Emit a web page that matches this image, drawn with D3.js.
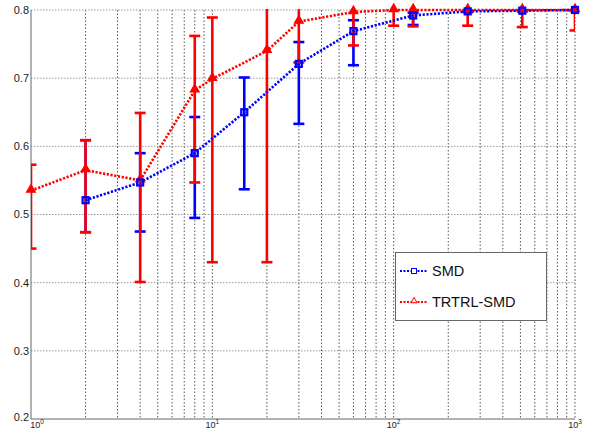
<!DOCTYPE html>
<html>
<head>
<meta charset="utf-8">
<script src="https://cdn.jsdelivr.net/npm/d3@7"></script>
<style>
  body { margin: 0; background: #fff; }
  svg { font-family: "Liberation Sans", Arial, sans-serif; }
</style>
</head>
<body>
<div id="chart"></div>
<script>
// SMD series
const smdX = [2, 4, 8, 15, 30, 60, 128, 256, 512, 1000];
const smdY = [0.521, 0.547, 0.590, 0.650, 0.721, 0.769, 0.792, 0.798, 0.799, 0.800];
const smdLo = [0.474, 0.475, 0.495, 0.537, 0.633, 0.719, 0.778, 0.797, 0.798, 0.799];
const smdHi = [0.609, 0.590, 0.643, 0.701, 0.753, 0.785, 0.796, 0.799, 0.800, 0.801];

// TRTRL-SMD series
const trtrlX = [1, 2, 4, 8, 10, 20, 30, 60, 100, 128, 256, 512, 1000];
const trtrlY = [0.535, 0.565, 0.550, 0.682, 0.699, 0.740, 0.783, 0.797, 0.800, 0.800, 0.800, 0.800, 0.800];
const trtrlLo = [0.450, 0.474, 0.401, 0.547, 0.430, 0.430, 0.723, 0.748, 0.777, 0.776, 0.777, 0.775, 0.770];
const trtrlHi = [0.573, 0.609, 0.649, 0.762, 0.789, 0.850, 0.843, 0.847, 0.823, 0.824, 0.823, 0.825, 0.830];

const yTicks = [0.2, 0.3, 0.4, 0.5, 0.6, 0.7, 0.8];
const xDecades = [1, 10, 100, 1000];
const legendLabels = ["SMD", "TRTRL-SMD"];

const width = 601, height = 439;
const plot = { left: 31, right: 575, top: 10, bottom: 419 };

const svg = d3.select("#chart").append("svg")
    .attr("width", width)
    .attr("height", height);

const x = d3.scaleLog().domain([1, 1000]).range([plot.left, plot.right]);
const y = d3.scaleLinear().domain([0.2, 0.8]).range([plot.bottom, plot.top]);

svg.append("defs").append("clipPath")
    .attr("id", "clip")
    .append("rect")
    .attr("x", plot.left)
    .attr("y", plot.top - 1)
    .attr("width", plot.right - plot.left)
    .attr("height", plot.bottom - plot.top + 1);

// grid
const minorX = [];
xDecades.slice(0, 3).forEach(d => {
    for (let k = 2; k <= 10; k++) minorX.push(d * k);
});

svg.append("g")
    .selectAll("line")
    .data(minorX)
    .enter().append("line")
    .attr("x1", d => x(d)).attr("x2", d => x(d))
    .attr("y1", plot.top).attr("y2", plot.bottom)
    .attr("stroke", "#555")
    .attr("stroke-width", 1)
    .attr("stroke-dasharray", "1.5,2");

svg.append("g")
    .selectAll("line")
    .data(yTicks.slice(1))
    .enter().append("line")
    .attr("x1", plot.left).attr("x2", plot.right)
    .attr("y1", d => y(d)).attr("y2", d => y(d))
    .attr("stroke", "#999")
    .attr("stroke-width", 1)
    .attr("stroke-dasharray", "1.5,1.5");

// axes
svg.append("line")
    .attr("x1", plot.left).attr("x2", plot.left)
    .attr("y1", plot.top).attr("y2", plot.bottom)
    .attr("stroke", "#666");
svg.append("line")
    .attr("x1", plot.left).attr("x2", plot.right)
    .attr("y1", plot.bottom).attr("y2", plot.bottom)
    .attr("stroke", "#666");

svg.append("g")
    .selectAll("text")
    .data(yTicks)
    .enter().append("text")
    .attr("x", plot.left - 2)
    .attr("y", d => y(d) - (d === 0.2 ? 2 : 0))
    .attr("dy", "0.36em")
    .attr("text-anchor", "end")
    .attr("font-size", 11)
    .attr("fill", "#222")
    .text(d => d3.format(".1f")(d));

// first decade label is pushed right of the axis, as matlab does
const xLab = svg.append("g")
    .selectAll("text")
    .data(xDecades)
    .enter().append("text")
    .attr("x", (d, i) => i === 0 ? x(d) + 6 : x(d))
    .attr("y", 428)
    .attr("text-anchor", "middle")
    .attr("font-size", 9)
    .attr("fill", "#222");
xLab.append("tspan").text("10");
xLab.append("tspan")
    .attr("dy", -4)
    .attr("font-size", 6.5)
    .text(d => Math.round(Math.log10(d)));

// series drawing helpers
const dotted = "2.2,1.6";
const capW = 5.5;

function errorBars(xs, lo, hi, color) {
    const g = svg.append("g").attr("clip-path", "url(#clip)");
    const data = xs.map((d, i) => ({ x: d, lo: lo[i], hi: hi[i] }));
    g.selectAll(".bar")
        .data(data)
        .enter().append("line")
        .attr("x1", d => x(d.x)).attr("x2", d => x(d.x))
        .attr("y1", d => y(d.lo)).attr("y2", d => y(d.hi))
        .attr("stroke", color)
        .attr("stroke-width", 2.6);
    ["lo", "hi"].forEach(k => {
        g.selectAll(".cap-" + k)
            .data(data)
            .enter().append("line")
            .attr("x1", d => x(d.x) - capW).attr("x2", d => x(d.x) + capW)
            .attr("y1", d => y(d[k])).attr("y2", d => y(d[k]))
            .attr("stroke", color)
            .attr("stroke-width", 2.6);
    });
}

function seriesLine(xs, ys, color) {
    const line = d3.line()
        .x((d, i) => x(xs[i]))
        .y(d => y(d));
    svg.append("path")
        .datum(ys)
        .attr("fill", "none")
        .attr("stroke", color)
        .attr("stroke-width", 2.6)
        .attr("stroke-dasharray", dotted)
        .attr("d", line);
}

errorBars(smdX, smdLo, smdHi, "#0000ff");
errorBars(trtrlX, trtrlLo, trtrlHi, "#ff0000");
seriesLine(smdX, smdY, "#0000ff");
seriesLine(trtrlX, trtrlY, "#ff0000");

// markers
svg.append("g")
    .selectAll("path")
    .data(trtrlY)
    .enter().append("path")
    .attr("transform", (d, i) => `translate(${x(trtrlX[i])},${y(d) - 1})`)
    .attr("d", d3.symbol().type(d3.symbolTriangle).size(34))
    .attr("fill", "#ff0000")
    .attr("stroke", "#ff0000")
    .attr("stroke-width", 1.2);

svg.append("g")
    .selectAll("rect")
    .data(smdY)
    .enter().append("rect")
    .attr("x", (d, i) => x(smdX[i]) - 3)
    .attr("y", d => y(d) - 3)
    .attr("width", 6)
    .attr("height", 6)
    .attr("fill", "none")
    .attr("stroke", "#0000ff")
    .attr("stroke-width", 2.2);

// legend
const legend = svg.append("g");
legend.append("rect")
    .attr("x", 395.5).attr("y", 252.5)
    .attr("width", 151).attr("height", 68)
    .attr("fill", "#fff")
    .attr("stroke", "#666");

const legendColors = ["#0000ff", "#ff0000"];
const legendY = [271, 302];

legendLabels.forEach((label, i) => {
    const ly = legendY[i];
    legend.append("line")
        .attr("x1", 400).attr("x2", 428)
        .attr("y1", ly).attr("y2", ly)
        .attr("stroke", legendColors[i])
        .attr("stroke-width", 2)
        .attr("stroke-dasharray", "2,1.5");
    if (i === 0) {
        legend.append("rect")
            .attr("x", 411.5).attr("y", ly - 2.5)
            .attr("width", 5).attr("height", 5)
            .attr("fill", "#fff")
            .attr("stroke", legendColors[i])
            .attr("stroke-width", 1);
    } else {
        legend.append("path")
            .attr("transform", `translate(414,${ly - 1})`)
            .attr("d", d3.symbol().type(d3.symbolTriangle).size(16))
            .attr("fill", "#fff")
            .attr("stroke", legendColors[i])
            .attr("stroke-width", 1);
    }
    legend.append("text")
        .attr("x", 432)
        .attr("y", ly + 5)
        .attr("font-size", 14.5)
        .attr("fill", "#111")
        .text(label);
});
</script>
</body>
</html>
